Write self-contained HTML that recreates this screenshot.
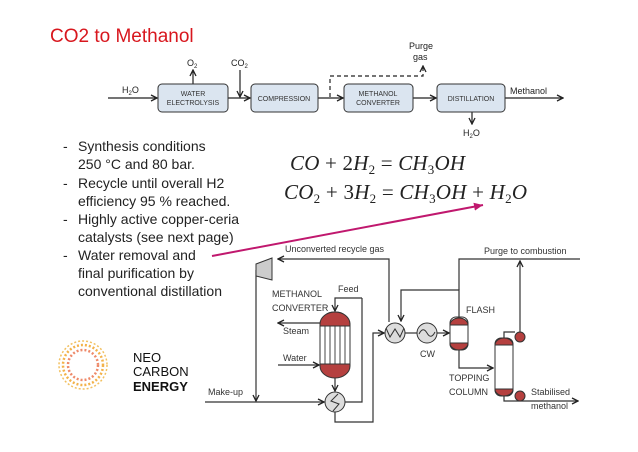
<!DOCTYPE html>
<html><head><meta charset="utf-8"><style>
body{margin:0;background:#fff}
svg{display:block}
.s{font-family:"Liberation Sans",sans-serif}
</style></head><body>
<svg width="638" height="452" viewBox="0 0 638 452" xmlns="http://www.w3.org/2000/svg">
<defs>
<marker id="a" markerWidth="8" markerHeight="8" refX="7" refY="4" orient="auto" markerUnits="userSpaceOnUse"><path d="M1,1 L7,4 L1,7" fill="none" stroke="#222" stroke-width="1.3"/></marker>
<marker id="m" markerWidth="10" markerHeight="10" refX="9" refY="5" orient="auto" markerUnits="userSpaceOnUse"><path d="M0,1 L9,5 L0,9z" fill="#c0186e"/></marker>
</defs>
<text x="50" y="42" font-family="Liberation Sans,sans-serif" font-size="19" fill="#d8171e">CO2 to Methanol</text>

<g stroke="#222" stroke-width="1.2" fill="none">
<line x1="108" y1="98" x2="157" y2="98" marker-end="url(#a)"/>
<line x1="228" y1="98" x2="250" y2="98" marker-end="url(#a)"/>
<line x1="318" y1="98" x2="343" y2="98" marker-end="url(#a)"/>
<line x1="413" y1="98" x2="436" y2="98" marker-end="url(#a)"/>
<line x1="505" y1="98" x2="563" y2="98" marker-end="url(#a)"/>
<line x1="193" y1="84" x2="193" y2="70" marker-end="url(#a)"/>
<line x1="240" y1="70" x2="240" y2="97" marker-end="url(#a)"/>
<line x1="472" y1="112" x2="472" y2="124" marker-end="url(#a)"/>
<path d="M330,97 V76 H423 V66" stroke-dasharray="4,3" marker-end="url(#a)"/>
</g>
<g fill="#dbe5f0" stroke="#333" stroke-width="1">
<rect x="158" y="84" width="70" height="28" rx="4"/>
<rect x="251" y="84" width="67" height="28" rx="4"/>
<rect x="344" y="84" width="69" height="28" rx="4"/>
<rect x="437" y="84" width="68" height="28" rx="4"/>
</g>
<g class="s" font-size="7" fill="#333" text-anchor="middle">
<text x="193" y="96">WATER</text><text x="193" y="105">ELECTROLYSIS</text>
<text x="284" y="101">COMPRESSION</text>
<text x="378" y="96">METHANOL</text><text x="378" y="105">CONVERTER</text>
<text x="471" y="101">DISTILLATION</text>
</g>
<g class="s" font-size="9" fill="#222">
<text x="122" y="93">H<tspan font-size="6" dy="2">2</tspan><tspan dy="-2">O</tspan></text>
<text x="187" y="66">O<tspan font-size="6" dy="2">2</tspan></text>
<text x="231" y="66">CO<tspan font-size="6" dy="2">2</tspan></text>
<text x="409" y="49">Purge</text><text x="413" y="60">gas</text>
<text x="510" y="94">Methanol</text>
<text x="463" y="136">H<tspan font-size="6" dy="2">2</tspan><tspan dy="-2">O</tspan></text>
</g>

<g font-family="Liberation Sans Narrow,Liberation Sans,sans-serif" font-size="14" fill="#222">
<text x="63" y="151">-</text><text x="78" y="151">Synthesis conditions</text>
<text x="78" y="169">250 °C and 80 bar.</text>
<text x="63" y="188">-</text><text x="78" y="188">Recycle until overall H2</text>
<text x="78" y="206">efficiency 95 % reached.</text>
<text x="63" y="224">-</text><text x="78" y="224">Highly active copper-ceria</text>
<text x="78" y="242">catalysts (see next page)</text>
<text x="63" y="260">-</text><text x="78" y="260">Water removal and</text>
<text x="78" y="278">final purification by</text>
<text x="78" y="296">conventional distillation</text>
</g>

<g font-family="Liberation Serif,serif" font-size="21" fill="#222">
<text x="290" y="170" textLength="175" lengthAdjust="spacing"><tspan font-style="italic">CO</tspan> + 2<tspan font-style="italic">H</tspan><tspan font-size="13" dy="4">2</tspan><tspan dy="-4"> = </tspan><tspan font-style="italic">CH</tspan><tspan font-size="13" dy="4">3</tspan><tspan dy="-4" font-style="italic">OH</tspan></text>
<text x="284" y="199" textLength="243" lengthAdjust="spacing"><tspan font-style="italic">CO</tspan><tspan font-size="13" dy="4">2</tspan><tspan dy="-4"> + 3</tspan><tspan font-style="italic">H</tspan><tspan font-size="13" dy="4">2</tspan><tspan dy="-4"> = </tspan><tspan font-style="italic">CH</tspan><tspan font-size="13" dy="4">3</tspan><tspan dy="-4" font-style="italic">OH</tspan> + <tspan font-style="italic">H</tspan><tspan font-size="13" dy="4">2</tspan><tspan dy="-4" font-style="italic">O</tspan></text>
</g>
<line x1="212" y1="256" x2="483" y2="205" stroke="#c0186e" stroke-width="2" marker-end="url(#m)"/>

<g stroke="#333" stroke-width="1.2" fill="none">
<path d="M389,322 V259 H278" marker-end="url(#a)"/>
<path d="M256,270 V401" marker-end="url(#a)"/>
<path d="M205,402 H324" marker-end="url(#a)"/>
<path d="M362,298 V402 H345"/>
<path d="M362,298 H335 V311" marker-end="url(#a)"/>
<path d="M320,323 H278" marker-end="url(#a)"/>
<path d="M278,365 H319" marker-end="url(#a)"/>
<path d="M335,377 V391" marker-end="url(#a)"/>
<path d="M335,412 V422 H373 V333 H384" marker-end="url(#a)"/>
<path d="M405,333 H417"/>
<path d="M437,333 H449" marker-end="url(#a)"/>
<path d="M459,317 V290 H401 V321" marker-end="url(#a)"/>
<path d="M459,290 V259 H580"/>
<path d="M459,350 V368 H493" marker-end="url(#a)"/>
<path d="M504,338 V332 H515"/>
<path d="M520,332 V261" marker-end="url(#a)"/>
<path d="M504,396 V401 H578" marker-end="url(#a)"/>
</g>
<path d="M256,264 L272,258 L272,280 L256,276z" fill="#ccc" stroke="#333"/>
<rect x="320" y="312" width="30" height="65" rx="14" fill="#fff" stroke="#333"/>
<path d="M320,326 V324 A15,12 0 0 1 350,324 V326 z" fill="#b5403f" stroke="#333"/>
<path d="M320,364 H350 V366 A15,12 0 0 1 320,366 z" fill="#b5403f" stroke="#333"/>
<g stroke="#333" stroke-width="0.9"><line x1="325" y1="326" x2="325" y2="364"/><line x1="330" y1="326" x2="330" y2="364"/><line x1="335" y1="326" x2="335" y2="364"/><line x1="340" y1="326" x2="340" y2="364"/><line x1="345" y1="326" x2="345" y2="364"/></g>
<g fill="#ddd" stroke="#333"><circle cx="335" cy="402" r="10"/><circle cx="395" cy="333" r="10"/><circle cx="427" cy="333" r="10"/></g>
<g fill="none" stroke="#333"><path d="M338,394 L331,401 L339,404 L333,411"/><path d="M386,328 L390,337 L395,329 L400,337 L404,328"/><path d="M419,334 Q423,326 427,333 Q431,340 435,332"/></g>
<rect x="450" y="317" width="18" height="33" rx="6" fill="#fff" stroke="#333"/>
<path d="M450,325 A9,7 0 0 1 468,325 z" fill="#b5403f" stroke="#333"/>
<path d="M450,343 H468 A9,7 0 0 1 450,343 z" fill="#b5403f" stroke="#333"/>
<rect x="495" y="338" width="18" height="58" rx="6" fill="#fff" stroke="#333"/>
<path d="M495,345 A9,7 0 0 1 513,345 z" fill="#b5403f" stroke="#333"/>
<path d="M495,389 H513 A9,7 0 0 1 495,389 z" fill="#b5403f" stroke="#333"/>
<circle cx="520" cy="337" r="5" fill="#b5403f" stroke="#333"/>
<circle cx="520" cy="396" r="5" fill="#b5403f" stroke="#333"/>
<g class="s" font-size="9" fill="#333">
<text x="285" y="252">Unconverted recycle gas</text>
<text x="484" y="254">Purge to combustion</text>
<text x="272" y="297">METHANOL</text><text x="272" y="311">CONVERTER</text>
<text x="338" y="292">Feed</text>
<text x="283" y="334">Steam</text><text x="283" y="361">Water</text>
<text x="208" y="395">Make-up</text>
<text x="420" y="357">CW</text>
<text x="466" y="313">FLASH</text>
<text x="449" y="381">TOPPING</text><text x="449" y="395">COLUMN</text>
<text x="531" y="395">Stabilised</text><text x="531" y="409">methanol</text>
</g>

<g fill="none" stroke-dasharray="2,2" stroke-width="2.5">
<circle cx="83" cy="365" r="20" stroke="#f3b24a"/>
<circle cx="83" cy="365" r="15" stroke="#ee8a6a"/>
<circle cx="83" cy="365" r="24" stroke="#f2c060" stroke-width="1.5"/>
</g>
<g class="s" font-size="13" fill="#111">
<text x="133" y="362">NEO</text><text x="133" y="376">CARBON</text><text x="133" y="391" font-weight="bold">ENERGY</text>
</g>
</svg>
</body></html>
